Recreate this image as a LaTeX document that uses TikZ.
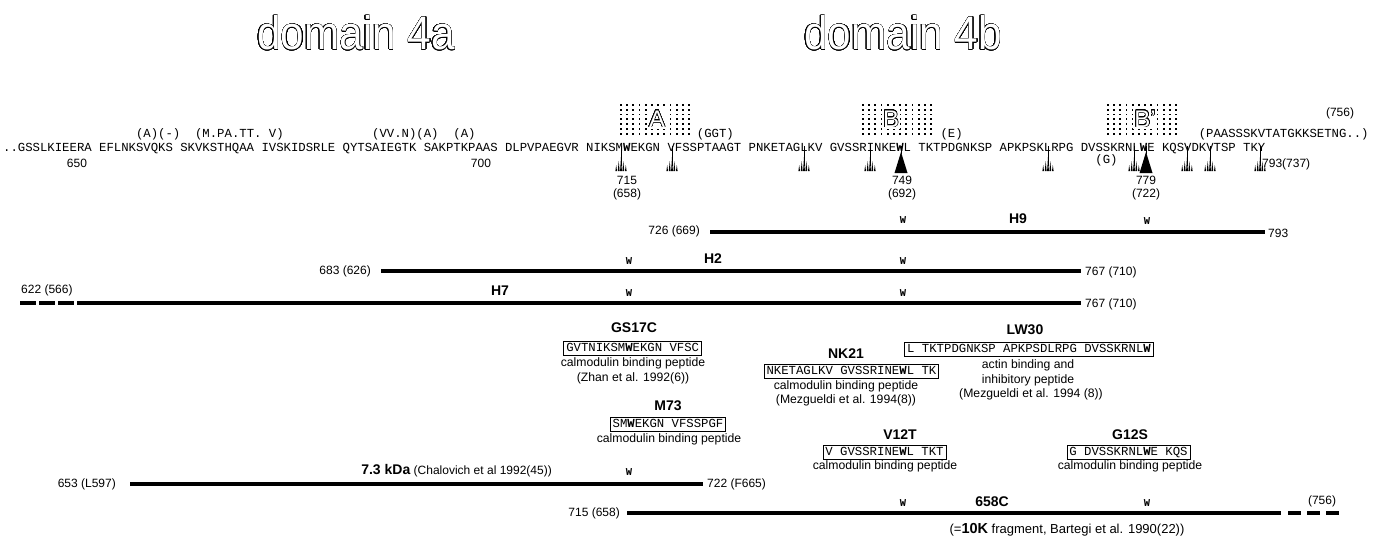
\documentclass[tikz,border=0pt]{standalone}
\usepackage{fontspec}
\setmainfont{Liberation Sans}
\newfontfamily\seqf{Liberation Mono}
\newfontfamily\narrowsans[FakeStretch=0.9]{Liberation Sans}
\usepackage{contour}
\contourlength{0.5pt}
\contournumber{32}
\newcommand\clmark[1]{%
  \draw[line width=0.5pt] (#1,146) -- (#1,166);
  \fill (#1-5.6,171) -- (#1-4.8,165) -- (#1-4.0,171) -- cycle;
  \fill (#1-3.2,171) -- (#1-2.3,161) -- (#1-1.4,171) -- cycle;
  \fill (#1-0.9,171) -- (#1,157) -- (#1+0.9,171) -- cycle;
  \fill (#1+1.4,171) -- (#1+2.3,161) -- (#1+3.2,171) -- cycle;
  \fill (#1+4.0,171) -- (#1+4.8,165) -- (#1+5.6,171) -- cycle;
}
\newcommand\bigmark[1]{%
  \draw[line width=0.5pt] (#1,146) -- (#1,154);
  \fill (#1-6.5,173) -- (#1,152) -- (#1+6.5,173) -- cycle;
}
\tikzset{
  seq/.style={font=\seqf\fontsize{12.3}{13}\selectfont, inner sep=0pt, anchor=base west},
  num/.style={font=\fontsize{12}{13}\selectfont, inner sep=0pt},
  ttl/.style={font=\bfseries\fontsize{14}{15}\selectfont, inner sep=0pt},
  captxt/.style={font=\fontsize{12.2}{13}\selectfont, inner sep=0pt},
  pep/.style={draw, line width=0.9pt, font=\seqf\fontsize{12.3}{13}\selectfont,
              inner xsep=2.5pt, inner ysep=2pt, text height=8.5pt, text depth=1.5pt},
  wmark/.style={font=\seqf\bfseries\fontsize{10.5}{11}\selectfont, inner sep=0pt},
  bar/.style={line width=4pt},
  outl/.style={inner sep=0pt, font=\narrowsans\fontsize{47}{47}\selectfont},
  outs/.style={inner sep=1pt, fill=white, font=\fontsize{24}{24}\selectfont},
}
\begin{document}
\begin{tikzpicture}[x=1pt,y=-1pt]
\useasboundingbox (0,0) rectangle (1375,538);
% domain titles
\node[outl] (d4a) at (356,33) {\color{white}\contour{black}{domain 4a}};
\node[outl] (d4b) at (903,33) {\color{white}\contour{black}{domain 4b}};
% dotted boxes
\foreach \i in {0,...,11} \foreach \j in {0,...,6} \fill (620+\i*6.2,104+\j*4.8) rectangle +(1.7,1.7);
\foreach \i in {0,...,11} \foreach \j in {0,...,6} \fill (862+\i*6.2,104+\j*4.8) rectangle +(1.7,1.7);
\foreach \i in {0,...,11} \foreach \j in {0,...,6} \fill (1107+\i*6.2,104+\j*4.8) rectangle +(1.7,1.7);
\node[outs] (lA) at (657,119) {\color{white}\contour{black}{A}};
\node[outs] (lB) at (891,119) {\color{white}\contour{black}{B}};
\node[outs] (lB2) at (1145,119) {\color{white}\contour{black}{B'}};
\node[num] (n756a) at (1340,113) {(756)};
% annotations
\node[seq] (an1) at (135.84,137) {(A)(-)};
\node[seq] (an2) at (194.9,137) {(M.PA.TT. V)};
\node[seq] (an3) at (372,137) {(VV.N)(A)};
\node[seq] (an4) at (453.2,137) {(A)};
\node[seq] (an5) at (696.7,137) {(GGT)};
\node[seq] (an6) at (940.3,137) {(E)};
\node[seq] (an7) at (1198.6,137) {(PAASSSKVTATGKKSETNG..)};
% sequence
\node[seq] (seq) at (3,151) {..GSSLKIEERA EFLNKSVQKS SKVKSTHQAA IVSKIDSRLE QYTSAIEGTK SAKPTKPAAS DLPVPAEGVR NIKSM\textbf{W}EKGN VFSSPTAAGT PNKETAGLKV GVSSRINKE\textbf{W}L TKTPDGNKSP APKPSKLRPG DVSSKRNL\textbf{W}E KQSVDKVTSP TKY};
\node[seq] (anG) at (1095.2,163) {(G)};
\node[num] (n650) at (77,163) {650};
\node[num] (n700) at (481,163) {700};
% cleavage marks
\foreach \p in {621,672,804,870,1048,1134,1187,1210,1260} {\clmark{\p}}
\bigmark{901}
\bigmark{1146}
\node[num] (n715) at (627,180) {715};
\node[num] (n658) at (627,194) {(658)};
\node[num] (n749) at (902,180) {749};
\node[num] (n692) at (902,194) {(692)};
\node[num] (n779) at (1146,180) {779};
\node[num] (n722) at (1146,194) {(722)};
\node[num, anchor=west] (n793a) at (1262,164) {793(737)};
% H9
\coordinate (h9a) at (710,232); \coordinate (h9b) at (1265,232);
\draw[bar] (h9a) -- (h9b);
\node[num, anchor=east] (h9l) at (700,231) {726 (669)};
\node[num, anchor=west] (h9r) at (1268,233) {793};
\node[ttl] (h9t) at (1018,219) {H9};
\node[wmark] (h9w1) at (903,220) {W};
\node[wmark] (h9w2) at (1147,221) {W};
% H2
\coordinate (h2a) at (381,271); \coordinate (h2b) at (1081,271);
\draw[bar] (h2a) -- (h2b);
\node[num, anchor=east] (h2l) at (371,271) {683 (626)};
\node[num, anchor=west] (h2r) at (1085,272) {767 (710)};
\node[ttl] (h2t) at (713,259) {H2};
\node[wmark] (h2w1) at (629,261) {W};
\node[wmark] (h2w2) at (903,261) {W};
% H7
\coordinate (h7a) at (20,303); \coordinate (h7c) at (78,303); \coordinate (h7b) at (1081,303);
\draw[bar, dash pattern=on 16pt off 3pt] (h7a) -- (h7c);
\draw[bar] (h7c) -- (h7b);
\node[num, anchor=west] (h7l) at (21,290) {622 (566)};
\node[num, anchor=west] (h7r) at (1085,304) {767 (710)};
\node[ttl] (h7t) at (500,291) {H7};
\node[wmark] (h7w1) at (629,293) {W};
\node[wmark] (h7w2) at (903,293) {W};
% GS17C
\node[ttl] (gs) at (634,328) {GS17C};
\node[pep] (gsb) at (632.7,348) {GVTNIKSM\textbf{W}EKGN VFSC};
\node[captxt] (gsc1) at (633,363) {calmodulin binding peptide};
\node[captxt] (gsc2) at (633,378) {(Zhan et al. 1992(6))};
% LW30
\node[ttl] (lw) at (1025,330) {LW30};
\node[pep] (lwb) at (1029,349) {L TKTPDGNKSP APKPSDLRPG DVSSKRNL\textbf{W}};
\node[captxt] (lwc1) at (1028,365) {actin binding and};
\node[captxt] (lwc2) at (1028,380) {inhibitory peptide};
\node[captxt] (lwc3) at (1031,394) {(Mezgueldi et al. 1994 (8))};
% NK21
\node[ttl] (nk) at (846,354) {NK21};
\node[pep] (nkb) at (851.4,371) {NKETAGLKV GVSSRINE\textbf{W}L TK};
\node[captxt] (nkc1) at (846,386) {calmodulin binding peptide};
\node[captxt] (nkc2) at (846,400) {(Mezgueldi et al. 1994(8))};
% M73
\node[ttl] (m73) at (668,406) {M73};
\node[pep] (m73b) at (668,424) {SM\textbf{W}EKGN VFSSPGF};
\node[captxt] (m73c) at (669,439) {calmodulin binding peptide};
% V12T
\node[ttl] (v12) at (900,435) {V12T};
\node[pep] (v12b) at (884.5,452) {V GVSSRINE\textbf{W}L TKT};
\node[captxt] (v12c) at (885,466) {calmodulin binding peptide};
% G12S
\node[ttl] (g12) at (1130,435) {G12S};
\node[pep] (g12b) at (1128.5,452) {G DVSSKRNL\textbf{W}E KQS};
\node[captxt] (g12c) at (1130,466) {calmodulin binding peptide};
% 7.3 kDa
\coordinate (kda) at (130,484); \coordinate (kdb) at (703,484);
\draw[bar] (kda) -- (kdb);
\node[num, anchor=east] (kdl) at (116,484) {653 (L597)};
\node[num, anchor=west] (kdr) at (707,484) {722 (F665)};
\node[num, anchor=east] (kdt) at (552,471) {\textbf{\fontsize{14}{15}\selectfont 7.3 kDa} (Chalovich et al 1992(45))};
\node[wmark] (kdw) at (629,472) {W};
% 658C
\coordinate (ca) at (627,513); \coordinate (cc) at (1281,513); \coordinate (cb) at (1339,513);
\draw[bar] (ca) -- (cc);
\draw[bar, dash pattern=on 13pt off 6pt] (1288,513) -- (cb);
\node[num, anchor=east] (cl) at (620,513) {715 (658)};
\node[ttl] (ct) at (992,502) {658C};
\node[wmark] (cw1) at (903,503) {W};
\node[wmark] (cw2) at (1147,503) {W};
\node[num] (c756) at (1322,501) {(756)};
\node[num] (c10k) at (1067,530) {\fontsize{13}{14}\selectfont(=\textbf{\fontsize{14.5}{15}\selectfont 10K} fragment, Bartegi et al. 1990(22))};
\end{tikzpicture}
\end{document}
